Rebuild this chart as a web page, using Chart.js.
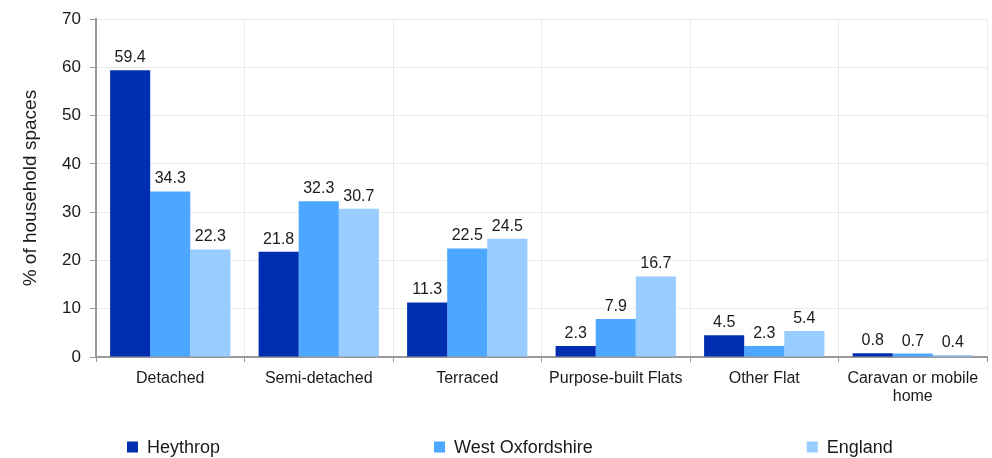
<!DOCTYPE html>
<html>
<head>
<meta charset="utf-8">
<script src="https://cdn.jsdelivr.net/npm/chart.js@4/dist/chart.umd.min.js"></script>
<style>
  body { margin: 0; background: #fff; }
  #wrap { width: 992px; height: 458px; position: relative; }
</style>
</head>
<body>
<div id="wrap"><canvas id="chart"></canvas></div>
<script>
const categories = ["Detached", "Semi-detached", "Terraced", "Purpose-built Flats", "Other Flat", ["Caravan or mobile", "home"]]
const heythrop = [59.4, 21.8, 11.3, 2.3, 4.5, 0.8]
const westOxfordshire = [34.3, 32.3, 22.5, 7.9, 2.3, 0.7]
const england = [22.3, 30.7, 24.5, 16.7, 5.4, 0.4]
const seriesNames = ["Heythrop", "West Oxfordshire", "England"]
const seriesColors = ["#002eb0", "#4da6ff", "#99ccff"]
const yTicks = [0, 10, 20, 30, 40, 50, 60, 70]

const FONT = "'Liberation Sans', Arial, sans-serif"
const TEXT = "#1a1a1a"

// values above each bar
const barLabels = {
  id: "barLabels",
  afterDatasetsDraw(chart) {
    const ctx = chart.ctx
    ctx.save()
    ctx.font = "16px " + FONT
    ctx.fillStyle = TEXT
    ctx.textAlign = "center"
    ctx.textBaseline = "alphabetic"
    chart.data.datasets.forEach((ds, i) => {
      chart.getDatasetMeta(i).data.forEach((bar, j) => {
        ctx.fillText(ds.data[j].toFixed(1), bar.x, bar.y - 8)
      })
    })
    ctx.restore()
  }
}

// legend with wide gaps, drawn at the bottom
const wideLegend = {
  id: "wideLegend",
  afterDraw(chart) {
    const ctx = chart.ctx
    ctx.save()
    ctx.font = "18px " + FONT
    ctx.textBaseline = "middle"
    ctx.textAlign = "left"
    const box = 11, gap = 9, between = 214
    const y = 447
    let x = 127
    chart.data.datasets.forEach((ds) => {
      ctx.fillStyle = ds.backgroundColor
      ctx.fillRect(x, y - box / 2, box, box)
      ctx.fillStyle = TEXT
      ctx.fillText(ds.label, x + box + gap, y + 1)
      x += box + gap + ctx.measureText(ds.label).width + between
    })
    ctx.restore()
  }
}

const ctx = document.getElementById("chart").getContext("2d")
const chart = new Chart(ctx, {
  type: "bar",
  data: {
    labels: categories,
    datasets: [heythrop, westOxfordshire, england].map((d, i) => ({
      label: seriesNames[i],
      data: d,
      backgroundColor: seriesColors[i],
      borderWidth: 0,
      categoryPercentage: 0.81,
      barPercentage: 1.0,
    })),
  },
  options: {
    responsive: true,
    maintainAspectRatio: false,
    animation: false,
    layout: { padding: { left: 0, right: 5, top: 15, bottom: 50 } },
    plugins: {
      legend: { display: false },
      tooltip: { enabled: false },
    },
    scales: {
      x: {
        grid: { color: "#ebebeb", tickColor: "#999", tickLength: 5, offset: true },
        border: { color: "#999", width: 2 },
        ticks: {
          color: TEXT,
          font: { family: FONT, size: 16, lineHeight: 1.1 },
          padding: 8,
          maxRotation: 0,
          autoSkip: false,
        },
        afterFit(scale) { scale.height = 51 },
      },
      y: {
        min: 0,
        max: 70,
        afterBuildTicks(scale) { scale.ticks = yTicks.map((v) => ({ value: v })) },
        grid: { color: "#ebebeb", tickColor: "#999", tickLength: 6 },
        border: { color: "#999", width: 2 },
        ticks: {
          color: TEXT,
          font: { family: FONT, size: 17 },
          padding: 9,
        },
        title: {
          display: true,
          text: "% of household spaces",
          color: TEXT,
          font: { family: FONT, size: 19 },
          padding: { top: 19, bottom: 0 },
        },
        afterFit(scale) { scale.width = 96 },
      },
    },
  },
  plugins: [barLabels, wideLegend],
})
</script>
</body>
</html>
